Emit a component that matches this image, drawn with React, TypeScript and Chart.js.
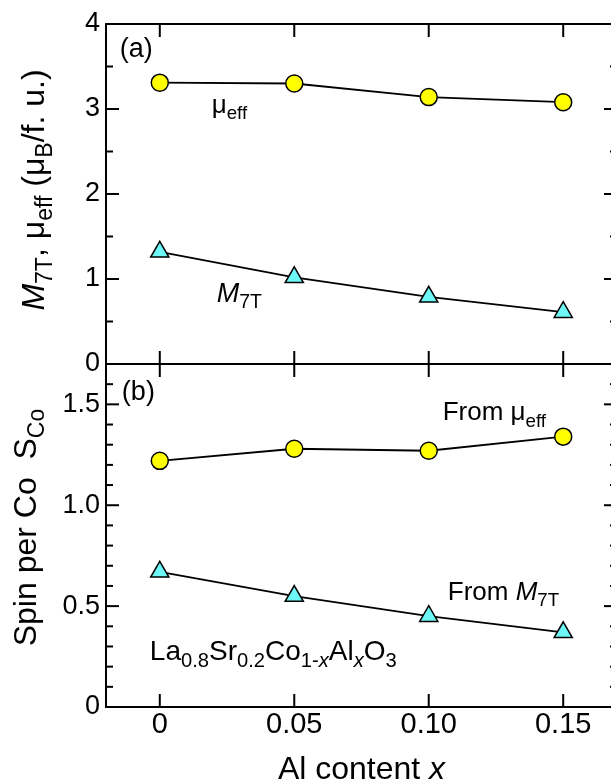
import React, { useEffect, useRef } from "react";
import { Chart, registerables } from "chart.js";

Chart.register(...registerables);

// ---- data ----
const alContent = [0, 0.05, 0.1, 0.15];
const muEff = [3.31, 3.3, 3.14, 3.08];
const m7T = [1.32, 1.02, 0.79, 0.61];
const spinFromMu = [1.22, 1.28, 1.27, 1.34];
const spinFromM = [0.67, 0.55, 0.45, 0.37];

const xTickValues = [0, 0.05, 0.1, 0.15];
const xTickLabels = ["0", "0.05", "0.10", "0.15"];
const yTopTickValues = [0, 1, 2, 3, 4];
const yTopTickLabels = ["0", "1", "2", "3", "4"];
const yTopMinor = [0.5, 1.5, 2.5, 3.5];
const yBotTickValues = [0, 0.5, 1.0, 1.5];
const yBotTickLabels = ["0", "0.5", "1.0", "1.5"];
const yBotMinor = [0.1, 0.2, 0.3, 0.4, 0.6, 0.7, 0.8, 0.9, 1.1, 1.2, 1.3, 1.4, 1.6];

const FAMILY = "'Liberation Sans', Arial, Helvetica, sans-serif";

type Seg = { t: string; i?: boolean; s?: boolean };

function drawRich(
  ctx: CanvasRenderingContext2D,
  segs: Seg[],
  x: number,
  y: number,
  size: number,
  align: "left" | "center"
) {
  const subSize = size * 0.72;
  const font = (sg: Seg) => `${sg.i ? "italic " : ""}${sg.s ? subSize : size}px ${FAMILY}`;
  let w = 0;
  for (const sg of segs) {
    ctx.font = font(sg);
    w += ctx.measureText(sg.t).width;
  }
  let cx = align === "center" ? x - w / 2 : x;
  ctx.textAlign = "left";
  ctx.textBaseline = "alphabetic";
  ctx.fillStyle = "#000";
  for (const sg of segs) {
    ctx.font = font(sg);
    ctx.fillText(sg.t, cx, y + (sg.s ? size * 0.24 : 0));
    cx += ctx.measureText(sg.t).width;
  }
}

const framePlugin = {
  id: "frameTicks",
  afterDraw(chart: any) {
    const ctx: CanvasRenderingContext2D = chart.ctx;
    const { left, right, top, bottom } = chart.chartArea;
    const sx = chart.scales.x;
    const yT = chart.scales.yT;
    const yB = chart.scales.yB;
    const mid = yT.bottom;
    const line = (x1: number, y1: number, x2: number, y2: number) => {
      ctx.beginPath();
      ctx.moveTo(x1, y1);
      ctx.lineTo(x2, y2);
      ctx.stroke();
    };
    ctx.save();
    ctx.strokeStyle = "#000";
    ctx.lineWidth = 2;
    ctx.lineCap = "square";
    ctx.strokeRect(left, top, right - left, bottom - top);
    line(left, mid, right, mid);
    ctx.lineCap = "butt";
    const MAJ = 13;
    const MIN = 7;
    const yTicks = (scale: any, vals: number[], len: number) => {
      for (const v of vals) {
        const p = scale.getPixelForValue(v);
        line(left, p, left + len, p);
        line(right, p, right - len, p);
      }
    };
    yTicks(yT, yTopTickValues, MAJ);
    yTicks(yT, yTopMinor, MIN);
    yTicks(yB, yBotTickValues, MAJ);
    yTicks(yB, yBotMinor, MIN);
    for (const v of xTickValues) {
      const p = sx.getPixelForValue(v);
      line(p, top, p, top + MAJ);
      line(p, mid - MAJ, p, mid + MAJ);
      line(p, bottom, p, bottom - MAJ);
    }

    // panel labels & annotations
    const X = (v: number) => sx.getPixelForValue(v);
    drawRich(ctx, [{ t: "(a)" }], X(-0.0149), yT.getPixelForValue(3.61), 27, "left");
    drawRich(ctx, [{ t: "(b)" }], X(-0.0141), yB.getPixelForValue(1.52), 27, "left");
    drawRich(ctx, [{ t: "\u03bc" }, { t: "eff", s: true }], X(0.0193), yT.getPixelForValue(2.95), 26, "left");
    drawRich(ctx, [{ t: "M", i: true }, { t: "7T", s: true }], X(0.0212), yT.getPixelForValue(0.73), 27, "left");
    drawRich(ctx, [{ t: "From \u03bc" }, { t: "eff", s: true }], X(0.1052), yB.getPixelForValue(1.42), 26, "left");
    drawRich(ctx, [{ t: "From " }, { t: "M", i: true }, { t: "7T", s: true }], X(0.1071), yB.getPixelForValue(0.53), 26, "left");
    drawRich(
      ctx,
      [
        { t: "La" },
        { t: "0.8", s: true },
        { t: "Sr" },
        { t: "0.2", s: true },
        { t: "Co" },
        { t: "1-", s: true },
        { t: "x", s: true, i: true },
        { t: "Al" },
        { t: "x", s: true, i: true },
        { t: "O" },
        { t: "3", s: true },
      ],
      X(-0.0037),
      yB.getPixelForValue(0.233),
      28,
      "left"
    );

    // axis titles
    drawRich(ctx, [{ t: "Al content " }, { t: "x", i: true }], (left + right) / 2, 779, 32, "center");
    ctx.save();
    ctx.translate(44, (yT.top + yT.bottom) / 2 - 4);
    ctx.rotate(-Math.PI / 2);
    drawRich(
      ctx,
      [
        { t: "M", i: true },
        { t: "7T", s: true },
        { t: ", \u03bc" },
        { t: "eff", s: true },
        { t: " (\u03bc" },
        { t: "B", s: true },
        { t: "/f. u.)" },
      ],
      0,
      0,
      32,
      "center"
    );
    ctx.restore();
    ctx.save();
    ctx.translate(36, (yB.top + yB.bottom) / 2 - 8);
    ctx.rotate(-Math.PI / 2);
    drawRich(ctx, [{ t: "Spin per Co  S" }, { t: "Co", s: true }], 0, 0, 32, "center");
    ctx.restore();
    ctx.restore();
  },
};

export default function App() {
  const ref = useRef<HTMLCanvasElement | null>(null);
  useEffect(() => {
    document.body.style.margin = "0";
    const canvas = ref.current!;
    const pts = (ys: number[]) => alContent.map((x, i) => ({ x, y: ys[i] }));
    const circle = {
      pointStyle: "circle",
      pointRadius: 8.5,
      pointBackgroundColor: "#FFFF00",
      pointBorderColor: "#000",
      pointBorderWidth: 1.5,
      borderColor: "#000",
      borderWidth: 1.8,
      showLine: true,
      fill: false,
      tension: 0,
    };
    const tri = {
      pointStyle: "triangle",
      pointRadius: 10.5,
      pointBackgroundColor: "#6EF7F7",
      pointBorderColor: "#000",
      pointBorderWidth: 1.5,
      borderColor: "#000",
      borderWidth: 1.8,
      showLine: true,
      fill: false,
      tension: 0,
    };
    const tickFontY = { family: FAMILY, size: 27 };
    const chart = new Chart(canvas, {
      type: "line",
      data: {
        datasets: [
          { label: "mu_eff", data: pts(muEff), yAxisID: "yT", ...circle } as any,
          { label: "M7T", data: pts(m7T), yAxisID: "yT", ...tri } as any,
          { label: "S from mu", data: pts(spinFromMu), yAxisID: "yB", ...circle } as any,
          { label: "S from M", data: pts(spinFromM), yAxisID: "yB", ...tri } as any,
        ],
      },
      options: {
        animation: false,
        responsive: false,
        devicePixelRatio: 1,
        layout: { padding: { top: 24, right: 23, left: 0, bottom: 0 } },
        plugins: { legend: { display: false }, tooltip: { enabled: false } },
        scales: {
          x: {
            type: "linear",
            min: -0.02,
            max: 0.17,
            grid: { display: false, drawTicks: false },
            border: { display: false },
            afterBuildTicks: (s: any) => {
              s.ticks = xTickValues.map((v) => ({ value: v }));
            },
            afterFit: (s: any) => {
              s.height = 73;
            },
            ticks: {
              autoSkip: false,
              maxRotation: 0,
              padding: 1,
              color: "#000",
              font: { family: FAMILY, size: 29 },
              callback: (_v: any, i: number) => xTickLabels[i],
            },
          },
          yB: {
            type: "linear",
            position: "left",
            stack: "panels",
            stackWeight: 343,
            min: 0,
            max: 1.7,
            grid: { display: false, drawTicks: false },
            border: { display: false },
            afterBuildTicks: (s: any) => {
              s.ticks = yBotTickValues.map((v) => ({ value: v }));
            },
            afterFit: (s: any) => {
              s.width = 106;
            },
            ticks: {
              autoSkip: false,
              padding: 6,
              color: "#000",
              font: tickFontY,
              callback: (_v: any, i: number) => yBotTickLabels[i],
            },
          },
          yT: {
            type: "linear",
            position: "left",
            stack: "panels",
            stackWeight: 340,
            min: 0,
            max: 4,
            grid: { display: false, drawTicks: false },
            border: { display: false },
            afterBuildTicks: (s: any) => {
              s.ticks = yTopTickValues.map((v) => ({ value: v }));
            },
            afterFit: (s: any) => {
              s.width = 106;
            },
            ticks: {
              autoSkip: false,
              padding: 6,
              color: "#000",
              font: tickFontY,
              callback: (_v: any, i: number) => yTopTickLabels[i],
            },
          },
        },
      } as any,
      plugins: [framePlugin],
    });
    return () => chart.destroy();
  }, []);
  return (
    <div style={{ position: "absolute", left: 0, top: 0, width: 611, height: 780, overflow: "hidden", background: "#fff" }}>
      <canvas ref={ref} width={640} height={780} style={{ display: "block", width: 640, height: 780 }} />
    </div>
  );
}
